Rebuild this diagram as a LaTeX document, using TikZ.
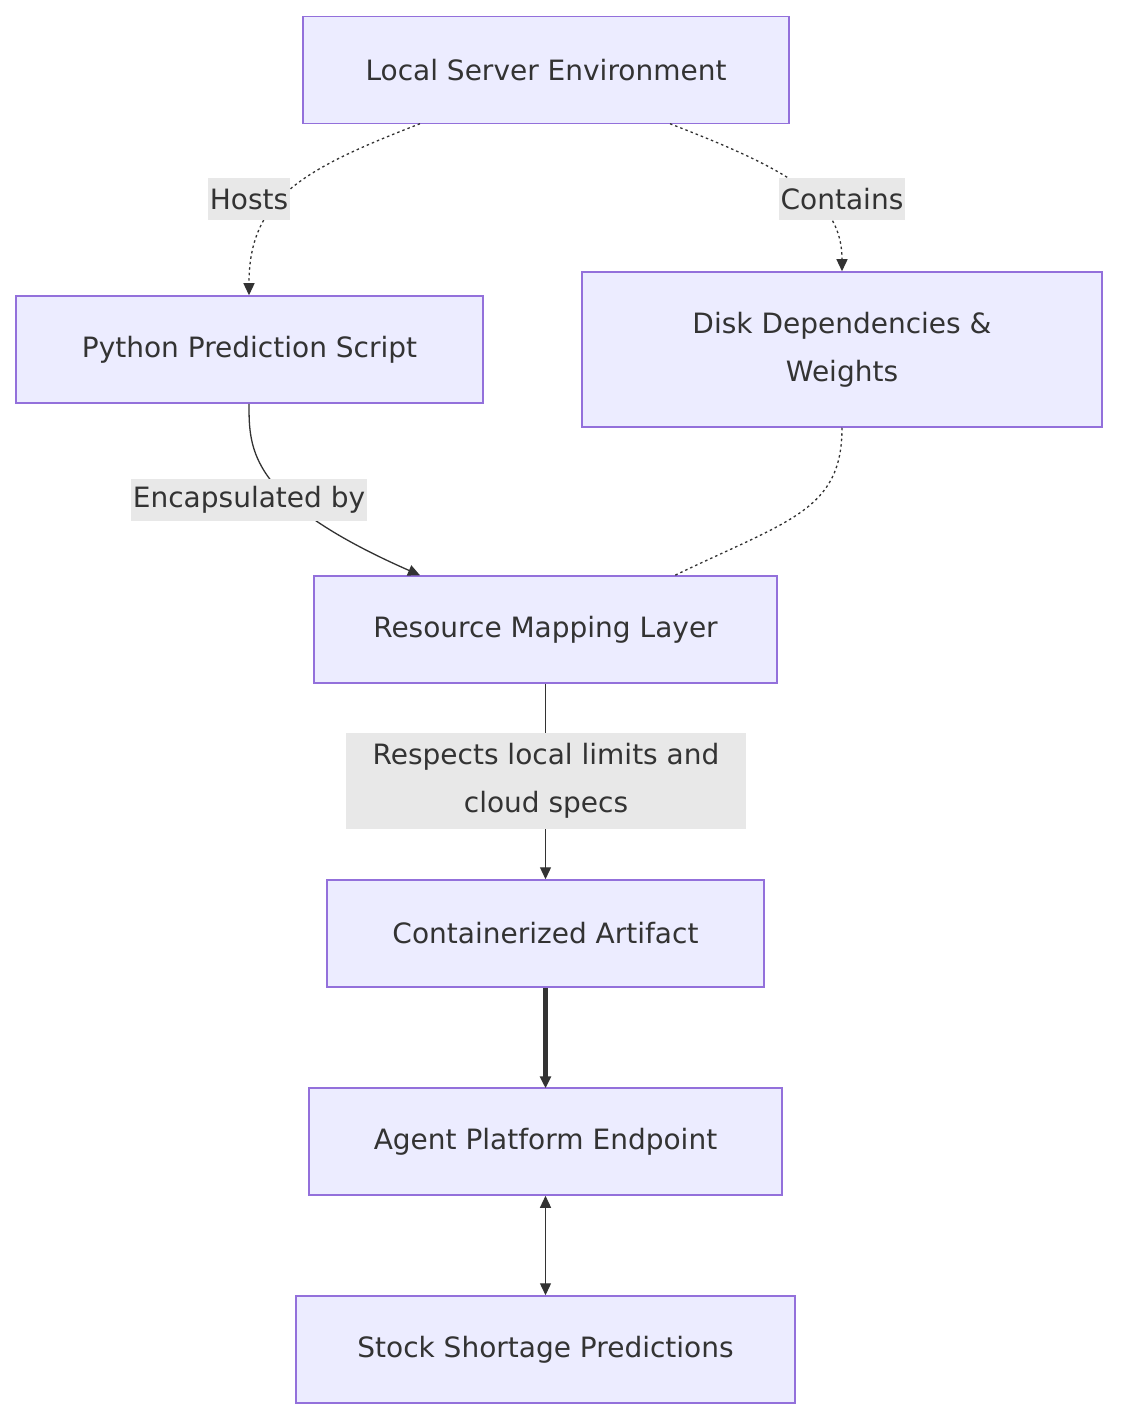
\documentclass[tikz,border=0pt]{standalone}
\usepackage{fontspec}
\setmainfont{DejaVu Sans}
\usetikzlibrary{arrows.meta}
\definecolor{nfill}{HTML}{ECECFF}
\definecolor{nstroke}{HTML}{9370DB}
\definecolor{ln}{HTML}{333333}
\definecolor{lbg}{HTML}{E8E8E8}
\begin{document}
\begin{tikzpicture}[x=1pt,y=-1pt,
  box/.style={draw=nstroke,fill=nfill,line width=1.5pt,inner sep=0pt,font=\fontsize{28}{48}\selectfont,text=ln,align=center},
  lab/.style={fill=lbg,inner xsep=2pt,inner ysep=0pt,minimum height=42pt,font=\fontsize{28}{48}\selectfont,text=ln,align=center},
  e/.style={draw=ln,line width=1.3pt,-{Triangle[length=12pt,width=11pt]}},
  dot/.style={dash pattern=on 2.5pt off 3pt}]
\useasboundingbox (0,0) rectangle (1120,1420);
\node[box,minimum width=486pt,minimum height=107pt] (local) at (546,70) {Local Server Environment};
\node[box,minimum width=467pt,minimum height=107pt] (py) at (249.5,349.5) {Python Prediction Script};
\node[box,minimum width=520pt,minimum height=155pt] (disk) at (842,349.5) {Disk Dependencies \&\\Weights};
\node[box,minimum width=463pt,minimum height=107pt] (res) at (545.5,629.5) {Resource Mapping Layer};
\node[box,minimum width=437pt,minimum height=107pt] (cont) at (545.5,933.5) {Containerized Artifact};
\node[box,minimum width=473pt,minimum height=107pt] (agent) at (545.5,1141.5) {Agent Platform Endpoint};
\node[box,minimum width=499pt,minimum height=107pt] (stock) at (545.5,1349.5) {Stock Shortage Predictions};
\coordinate (l1) at (420,123.75); \coordinate (l2) at (670,123.75);
\coordinate (p1) at (249,295.25); \coordinate (d1) at (842,271.25);
\coordinate (p2) at (249,403.75); \coordinate (r1) at (420,575.25);
\coordinate (d2) at (842,427.75); \coordinate (r2) at (675,575.25);
\draw[e,dot] (l1) .. controls (300,170) and (249,200) .. (p1);
\draw[e,dot] (l2) .. controls (790,170) and (842,200) .. (d1);
\draw[e] (p2) .. controls (249,450) and (249,500) .. (r1);
\draw[draw=ln,line width=1.3pt,dot] (d2) .. controls (842,510) and (790,520) .. (r2);
\draw[e] (res) -- (cont);
\draw[draw=ln,line width=4.5pt,-{Triangle[length=12pt,width=11pt]}] (cont) -- ([yshift=-1pt]agent.north);
\draw[draw=ln,line width=1.3pt,{Triangle[length=12pt,width=11pt]}-{Triangle[length=12pt,width=11pt]}] (agent) -- (stock);
\node[lab] (hl) at (249,199) {Hosts};
\node[lab] (cl) at (842,199) {Contains};
\node[lab] (el) at (249,500) {Encapsulated by};
\node[lab,minimum width=400pt,minimum height=96pt] (rl) at (546,781) {Respects local limits and\\cloud specs};
\end{tikzpicture}
\end{document}
